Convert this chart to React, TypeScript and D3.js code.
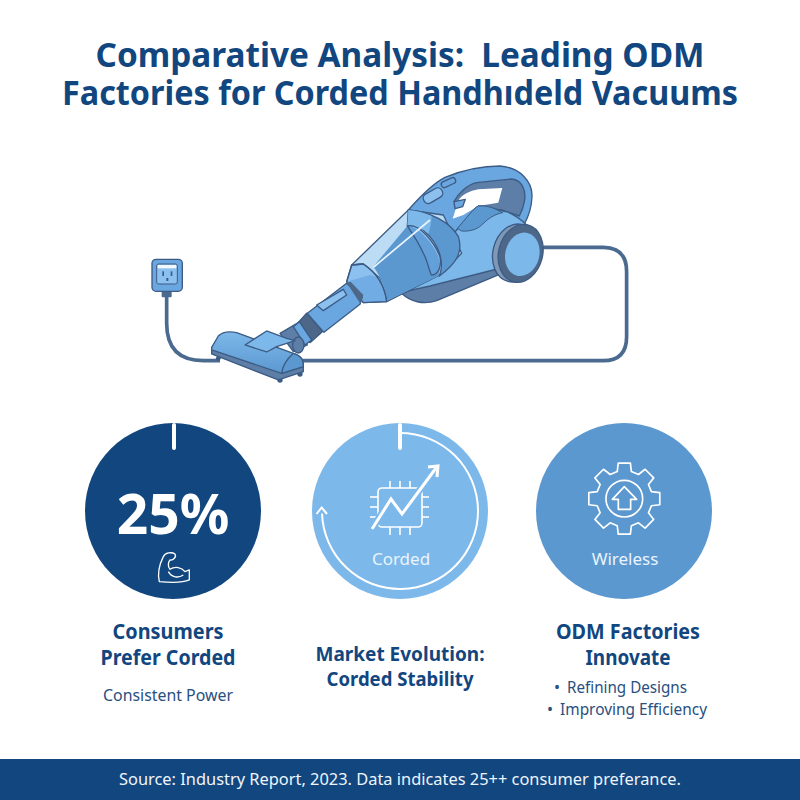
import * as d3 from "d3";

const titleLines = ["Comparative Analysis:  Leading ODM", "Factories for Corded Handhıdeld Vacuums"];
const titleWidths = [609, 676];
const sourceNote = "Source: Industry Report, 2023. Data indicates 25++ consumer preferance.";

const circleKeys = ["power", "market", "odm"];
const circleFills = ["#12467f", "#7db8ea", "#5b98d0"];
const circleLabels = ["25%", "Corded", "Wireless"];

const headingCols = [168, 400, 628];
const headings = [
  ["Consumers", "Prefer Corded"],
  ["Market Evolution:", "Corded Stability"],
  ["ODM Factories", "Innovate"],
];
const headingWidths = [
  [111, 135],
  [169, 147],
  [144, 85],
];
const bulletItems = ["Refining Designs", "Improving Efficiency"];
const bulletWidths = [120, 147];

const NAVY = "#12467f";
const FONT = "'Noto Sans', 'Open Sans', sans-serif";
const INK = "#3c5c85";
const MID = "#6aa6e0";
const LIGHT = "#7db8ea";
const PALE = "#8cc0ee";
const DEEP = "#5b98d0";
const SLATE = "#5d7ea6";

const x = d3.scaleOrdinal<string, number>().domain(circleKeys).range([173, 400, 624]);
const RADIUS = 88;
const CY = 511;

// middle circle's ring, from the top round to the left
const ringArc = d3.arc()({
  innerRadius: 77,
  outerRadius: 79,
  startAngle: 0,
  endAngle: Math.PI * 1.49,
}) as string;

// gear outline, 8 teeth
const gearPoints: [number, number][] = d3.range(8).flatMap((i) => {
  const a = (i * Math.PI) / 4;
  const w = 0.17;
  return [
    [a - w * 1.5, 84],
    [a - w, 108],
    [a + w, 108],
    [a + w * 1.5, 84],
  ] as [number, number][];
});
const gearPath = d3.lineRadial().curve(d3.curveLinearClosed)(gearPoints) as string;

const line = { stroke: INK, strokeWidth: 4, strokeLinejoin: "round" as const };

function Cords() {
  return (
    <g transform="translate(130,150) scale(0.3333)">
      <path d="M1230 292 H1420 Q1490 292 1490 365 V560 Q1490 632 1420 632 H510" fill="none" stroke="#4a6a90" strokeWidth={11} />
      <path d="M110 440 V520 Q110 632 220 632 H270" fill="none" stroke="#4a6a90" strokeWidth={11} />
      <rect x={95} y={420} width={30} height={22} rx={3} fill="#4a6a90" />
      <rect x={66} y={328} width={91} height={96} rx={12} fill={MID} {...line} />
      <rect x={80} y={342} width={62} height={60} rx={6} fill={PALE} stroke={INK} strokeWidth={3} />
      <rect x={83} y={345} width={56} height={10} fill="#f2f8fe" />
      <rect x={97} y={364} width={5} height={14} fill={INK} />
      <rect x={122} y={364} width={5} height={14} fill={INK} />
      <rect x={109} y={384} width={6} height={9} fill={INK} />
    </g>
  );
}

function Body() {
  return (
    <g transform="translate(330,160) scale(0.3333)">
      {/* base under the motor */}
      <path d="M215 400 C240 425 280 435 320 422 L505 345 L480 310 L290 375 Z" fill={SLATE} {...line} />

      {/* handle */}
      <path d="M235 150 C270 110 310 70 345 52 C400 30 460 18 510 18 C570 22 608 65 606 110 C605 140 595 170 583 192 L510 205 L390 240 Z" fill={MID} {...line} />
      <path d="M372 125 C385 100 410 75 440 68 L545 57 C575 60 590 90 583 125 C580 145 575 155 568 168 L515 150 L440 145 Z" fill={SLATE} {...line} />
      <path d="M385 122 C395 105 420 92 445 88 L517 84 L505 128 L445 138 L400 165 L368 176 Z" fill="#ffffff" />
      <path d="M372 125 L406 118 L398 140 L375 146 Z" fill={MID} {...line} />
      <rect x={278} y={92} width={62} height={30} rx={14} transform="rotate(-30 309 107)" fill={PALE} {...line} />
      <rect x={333} y={59} width={45} height={18} rx={8} transform="rotate(-25 355 68)" fill={MID} {...line} />

      {/* motor housing */}
      <path d="M380 210 C405 185 430 145 445 138 C480 135 510 155 530 155 C555 165 575 180 590 195 L600 240 L490 330 L300 378 L210 398 Z" fill={LIGHT} {...line} />
      <path d="M382 205 C405 180 430 145 445 138 C480 135 500 150 518 158 C495 162 475 175 455 195 C440 210 415 215 395 213 Z" fill={DEEP} stroke={INK} strokeWidth={3} />

      {/* dust cup */}
      <path d="M235 150 L65 315 L100 312 L150 355 L170 425 L330 345 L395 280 L340 165 Z" fill="#bcdcf6" {...line} />
      <path d="M130 320 L232 198 C260 195 310 250 325 290 C332 320 330 335 325 348 L172 422 C165 385 150 345 130 320 Z" fill={DEEP} />
      <path d="M235 150 C300 155 360 185 385 230 C400 275 380 310 328 348 C345 305 325 250 285 215 C270 200 250 197 232 198 Z" fill={DEEP} {...line} />
      <path d="M235 150 C262 152 282 158 305 168 C305 185 300 205 295 222 C280 205 255 197 232 198 Z" fill={LIGHT} />
      <path d="M232 198 C265 190 310 240 330 290 C335 320 325 345 305 345 C295 330 295 305 280 280 C265 245 250 225 232 198 Z" fill={MID} fillOpacity={0.55} {...line} />
      <path d="M300 180 L130 322" stroke="#eaf5fe" strokeWidth={5} fill="none" />
      <path d="M65 315 L50 365 L100 428 L170 425 C165 385 150 345 100 312 Z" fill={PALE} {...line} />
      <path d="M50 365 L120 345 L150 355 L170 425 L100 428 Z" fill={MID} opacity={0.75} />
      <path d="M65 315 L50 365 L100 428 L170 425 C165 385 150 345 100 312 Z" fill="none" {...line} />

      {/* wheel */}
      <ellipse cx={555} cy={279} rx={66} ry={88} transform="rotate(14 555 279)" fill="#7f98b5" {...line} />
      <ellipse cx={572} cy={280} rx={66} ry={88} transform="rotate(14 572 280)" fill="#4d6788" {...line} />
      <ellipse cx={577} cy={283} rx={51} ry={66} transform="rotate(14 577 283)" fill={LIGHT} />
    </g>
  );
}

function TubeAndNozzle() {
  return (
    <g transform="translate(130,150) scale(0.3333)">
      {/* tube */}
      <path d="M650 400 L697 440 L690 463 L582 547 L532 490 Z" fill={MID} {...line} />
      <path d="M650 398 L662 395 L700 435 L692 462 Z" fill="#4d6788" />
      <path d="M560 465 L640 418 L650 435 L580 482 Z" fill={PALE} {...line} />
      <path d="M530 490 L577 545 L540 578 L503 520 Z" fill="#4d6788" {...line} />
      <path d="M450 550 L510 515 L532 585 L490 605 Z" fill={SLATE} {...line} />
      <path d="M508 515 L545 570 L525 585 L490 530 Z" fill={MID} {...line} />
      <ellipse cx={505} cy={585} rx={17} ry={24} fill={SLATE} {...line} />

      {/* nozzle */}
      <circle cx={265} cy={625} r={7} fill={INK} />
      <circle cx={450} cy={690} r={8} fill={INK} />
      <circle cx={510} cy={672} r={8} fill={INK} />
      <path d="M245 598 L245 612 L445 690 L520 665 L520 640 Z" fill={SLATE} {...line} />
      <path d="M245 592 L265 558 C275 548 295 543 320 548 L490 610 C510 616 520 625 520 650 L455 670 L245 600 Z" fill="url(#nozzleFill)" {...line} />
      <path d="M455 670 C458 645 470 628 490 610 C510 616 520 625 520 650 Z" fill={DEEP} {...line} />
      <path d="M345 585 L410 543 L470 565 L495 572 L440 590 L410 606 Z" fill={LIGHT} {...line} />
    </g>
  );
}

function ChipIcon() {
  const pins = [-10, 0, 10];
  const s = { stroke: "#ffffff", strokeWidth: 1.6, fill: "none" };
  return (
    <g>
      <rect x={378} y={488} width={44} height={39} rx={4} {...s} />
      {pins.map((d) => (
        <g key={d}>
          <line x1={370} x2={378} y1={507 + d} y2={507 + d} {...s} />
          <line x1={422} x2={429} y1={507 + d} y2={507 + d} {...s} />
          <line x1={400 + d} x2={400 + d} y1={481} y2={488} {...s} />
          <line x1={400 + d} x2={400 + d} y1={527} y2={535} {...s} />
        </g>
      ))}
      <path d="M372 529 L391 499 L402 514 L436 468" fill="none" stroke={LIGHT} strokeWidth={7} />
      <path d="M372 529 L391 499 L402 514 L436 468" fill="none" stroke="#ffffff" strokeWidth={3} />
      <path d="M428 467 L438 466 L437 477" fill="none" stroke="#ffffff" strokeWidth={3} />
    </g>
  );
}

function BicepIcon() {
  return (
    <g transform="translate(70,410) scale(0.3333)" fill="none" stroke="#ffffff" strokeWidth={4} strokeLinejoin="round">
      <path d="M268 515 C262 490 270 460 280 440 C285 428 305 425 315 432 C320 440 310 452 300 450 C295 455 292 470 300 478 C315 468 335 472 345 485 L358 480 L358 510 C340 518 300 518 268 515 Z" />
      <path d="M295 485 C305 503 325 505 340 495" />
    </g>
  );
}

function GearIcon() {
  return (
    <g transform="translate(400,410) scale(0.3333)" fill="none" stroke="#ffffff" strokeWidth={5} strokeLinejoin="round">
      <path d={gearPath} transform="translate(673,266)" />
      <circle cx={673} cy={266} r={55} />
      <path d="M673 230 L710 268 L692 268 L692 298 L655 298 L655 268 L637 268 Z" />
    </g>
  );
}

export default function App() {
  return (
    <svg width={800} height={800} viewBox="0 0 800 800" style={{ position: "absolute", left: 0, top: 0 }} fontFamily={FONT}>
      <defs>
        <linearGradient id="nozzleFill" x1="0" y1="0" x2="0" y2="1">
          <stop offset="0" stopColor={LIGHT} />
          <stop offset="1" stopColor={DEEP} />
        </linearGradient>
      </defs>
      <rect width={800} height={800} fill="#ffffff" />

      {titleLines.map((t, i) => (
        <text
          key={t}
          x={400 - titleWidths[i] / 2}
          y={67 + i * 38}
          textLength={titleWidths[i]}
          lengthAdjust="spacingAndGlyphs"
          fontSize={34}
          fontWeight={700}
          fill={NAVY}
          style={{ whiteSpace: "pre" }}
        >
          {t}
        </text>
      ))}

      <Cords />
      <Body />
      <TubeAndNozzle />

      {circleKeys.map((k, i) => (
        <circle key={k} cx={x(k)} cy={CY} r={RADIUS} fill={circleFills[i]} />
      ))}

      {/* tick marks at the top of the first two circles */}
      <rect x={172} y={423} width={4} height={27} rx={2} fill="#ffffff" />
      <rect x={398} y={423} width={4} height={27} rx={2} fill="#ffffff" />

      <path d={ringArc} transform={`translate(400,${CY})`} fill="#ffffff" />
      <path d="M316.5 514 L321.7 507.5 L327 514" fill="none" stroke="#ffffff" strokeWidth={2} />

      <text x={173} y={534} textAnchor="middle" fontSize={55} fontWeight={700} fill="#ffffff">
        {circleLabels[0]}
      </text>
      <BicepIcon />
      <ChipIcon />
      <GearIcon />
      <text x={401} y={565} textAnchor="middle" fontSize={17} fill="#eaf4fd">
        {circleLabels[1]}
      </text>
      <text x={625} y={565} textAnchor="middle" fontSize={17} fill="#eaf4fd">
        {circleLabels[2]}
      </text>

      {headings.map((lines, i) =>
        lines.map((t, j) => (
          <text
            key={t}
            x={headingCols[i] - headingWidths[i][j] / 2}
            y={(i === 1 ? 661 : 639) + j * (i === 1 ? 25 : 26)}
            textLength={headingWidths[i][j]}
            lengthAdjust="spacingAndGlyphs"
            fontSize={i === 1 ? 19.5 : 20.5}
            fontWeight={700}
            fill={NAVY}
          >
            {t}
          </text>
        ))
      )}

      <text x={103} y={701} textLength={130} lengthAdjust="spacingAndGlyphs" fontSize={16} fill="#2a4f80">
        Consistent Power
      </text>

      {bulletItems.map((t, j) => (
        <g key={t} fill="#2a4f80" fontSize={16}>
          <text x={557 - j * 7} y={693 + j * 22} textAnchor="middle">
            •
          </text>
          <text x={567 - j * 7} y={693 + j * 22} textLength={bulletWidths[j]} lengthAdjust="spacingAndGlyphs">
            {t}
          </text>
        </g>
      ))}

      <rect y={759} width={800} height={41} fill={NAVY} />
      <text x={400} y={785} textAnchor="middle" fontSize={16.4} fill="#eef5fc">
        {sourceNote}
      </text>
    </svg>
  );
}
